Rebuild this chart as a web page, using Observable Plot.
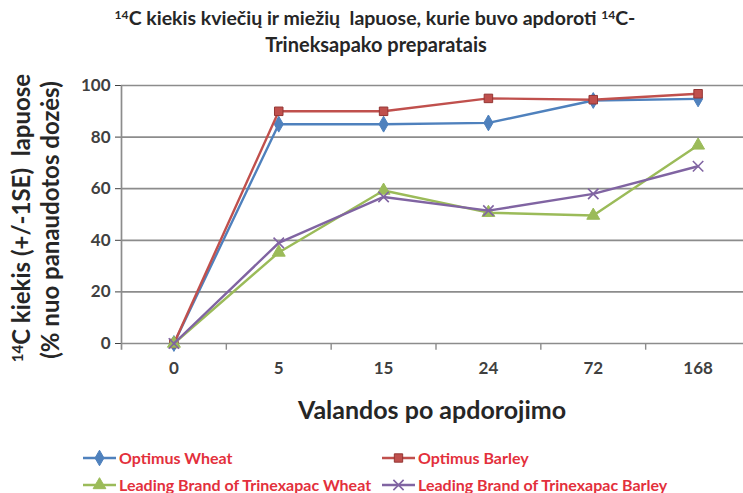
<!DOCTYPE html>
<html><head><meta charset="utf-8">
<script src="https://cdn.jsdelivr.net/npm/d3@7"></script>
<script src="https://cdn.jsdelivr.net/npm/@observablehq/plot@0.6"></script>
<style>
body{margin:0;background:#fff;}
#wrap{position:relative;width:743px;height:493px;overflow:hidden;font-family:Lato, "Open Sans", sans-serif;}
#wrap svg.plotsvg{position:absolute;left:0;top:0;}
.t{position:absolute;white-space:nowrap;font-weight:bold;color:#262626;line-height:1;}
.c{transform:translate(-50%,-50%);}
.r{transform:translate(-50%,-50%) rotate(-90deg);}
sup{font-size:62%;vertical-align:0.5em;line-height:0;}
.leg{position:absolute;display:flex;align-items:center;white-space:nowrap;font-weight:bold;font-size:16px;color:#e3303c;line-height:1;}
.leg svg{margin-right:3px;}
</style></head><body><div id="wrap"></div>
<script>
const hours = ["0", "5", "15", "24", "72", "168"];
const seriesNames = ["Optimus Wheat", "Optimus Barley", "Leading Brand of Trinexapac Wheat", "Leading Brand of Trinexapac Barley"];
const optimusWheat = [0, 85, 85, 85.5, 94.2, 94.8];
const optimusBarley = [0, 90, 90, 95, 94.5, 96.8];
const leadingWheat = [0, 35.3, 59.3, 50.7, 49.6, 76.8];
const leadingBarley = [0, 39, 56.8, 51.5, 58, 68.7];
const yTicks = [0, 20, 40, 60, 80, 100];
const colors = ["#4f81bd", "#c0504d", "#9bbb59", "#8064a2"];
const symbols = ["diamond", "square", "triangle", "times"];

const allValues = [optimusWheat, optimusBarley, leadingWheat, leadingBarley];
const data = [];
allValues.forEach((vals, s) => vals.forEach((v, i) => data.push({series: seriesNames[s], s, i, hour: hours[i], value: v})));
const idx = hours.map((_, i) => i);
const bounds = idx.slice(0, -1).map(i => i + 0.5);

const gridColor = "#8c8c8c";
const marks = [
  Plot.ruleY(yTicks, {x1: -0.5, x2: 5.5, stroke: gridColor, strokeWidth: 1.7}),
  Plot.ruleX([-0.5], {y1: -2.6, y2: 100, stroke: gridColor, strokeWidth: 1.7}),
  Plot.ruleX(bounds, {y1: 0, y2: -2.6, stroke: gridColor, strokeWidth: 1.4})
];
seriesNames.forEach((name, s) => {
  const d = data.filter(r => r.s === s);
  marks.push(Plot.line(d, {x: "i", y: "value", stroke: colors[s], strokeWidth: 2.4}));
  if (symbols[s] === "times") {
    marks.push(Plot.dot(d, {x: "i", y: "value", symbol: symbols[s], r: 4.8, stroke: colors[s], strokeWidth: 1.6}));
  } else if (symbols[s] === "square") {
    marks.push(Plot.dot(d, {x: "i", y: "value", symbol: symbols[s], r: 4.8, fill: colors[s], stroke: "#943634", strokeWidth: 1}));
  } else {
    marks.push(Plot.dot(d, {x: "i", y: "value", symbol: symbols[s], r: 4.8, fill: colors[s], stroke: colors[s], strokeWidth: 1}));
  }
});

const chart = Plot.plot({
  width: 743, height: 493,
  marginLeft: 121, marginRight: 0, marginTop: 85, marginBottom: 150,
  x: {domain: [-0.5, 5.5], range: [121, 750], ticks: idx, tickFormat: i => hours[i], tickSize: 0, tickPadding: 18, label: null},
  y: {domain: [0, 100], range: [343, 85], ticks: yTicks, tickSize: 6, tickPadding: 5, label: null},
  style: {fontFamily: "Lato, 'Open Sans', sans-serif", fontSize: "17px", fontWeight: "bold", color: "#404040", background: "transparent"},
  marks
});
chart.classList.add("plotsvg");
const wrap = document.getElementById("wrap");
wrap.appendChild(chart);

function addText(html, x, y, size, cls) {
  const el = document.createElement("div");
  el.className = "t " + cls;
  el.style.left = x + "px"; el.style.top = y + "px"; el.style.fontSize = size + "px";
  el.innerHTML = html;
  wrap.appendChild(el);
}
addText("<sup>14</sup>C kiekis kviečių ir miežių&nbsp; lapuose, kurie buvo apdoroti <sup>14</sup>C-", 375, 18, 19.5, "c");
addText("Trineksapako preparatais", 376, 44, 20, "c");
addText("Valandos po apdorojimo", 432, 409, 25, "c");
addText("<sup>14</sup>C kiekis (+/-1SE)&nbsp; lapuose", 21, 218, 24, "r");
addText("(% nuo panaudotos dozės)", 50, 220, 24, "r");

const legPos = [[83, 458], [382, 458], [83, 485], [382, 485]];
seriesNames.forEach((name, s) => {
  const el = document.createElement("div");
  el.className = "leg";
  el.style.left = legPos[s][0] + "px"; el.style.top = (legPos[s][1] - 9) + "px";
  const sw = d3.create("svg").attr("width", 33).attr("height", 18);
  sw.append("line").attr("x1", 0).attr("x2", 33).attr("y1", 9).attr("y2", 9).attr("stroke", colors[s]).attr("stroke-width", 2.4);
  const sym = {diamond: d3.symbolDiamond, square: d3.symbolSquare, triangle: d3.symbolTriangle, times: d3.symbolTimes}[symbols[s]];
  const p = sw.append("path").attr("transform", "translate(16.5,9)").attr("d", d3.symbol(sym, 70)());
  if (symbols[s] === "times") p.attr("fill", "none").attr("stroke", colors[s]).attr("stroke-width", 1.6);
  else p.attr("fill", colors[s]).attr("stroke", symbols[s] === "square" ? "#943634" : colors[s]);
  el.appendChild(sw.node());
  const tx = document.createElement("span");
  tx.textContent = name;
  el.appendChild(tx);
  wrap.appendChild(el);
});
</script></body></html>
